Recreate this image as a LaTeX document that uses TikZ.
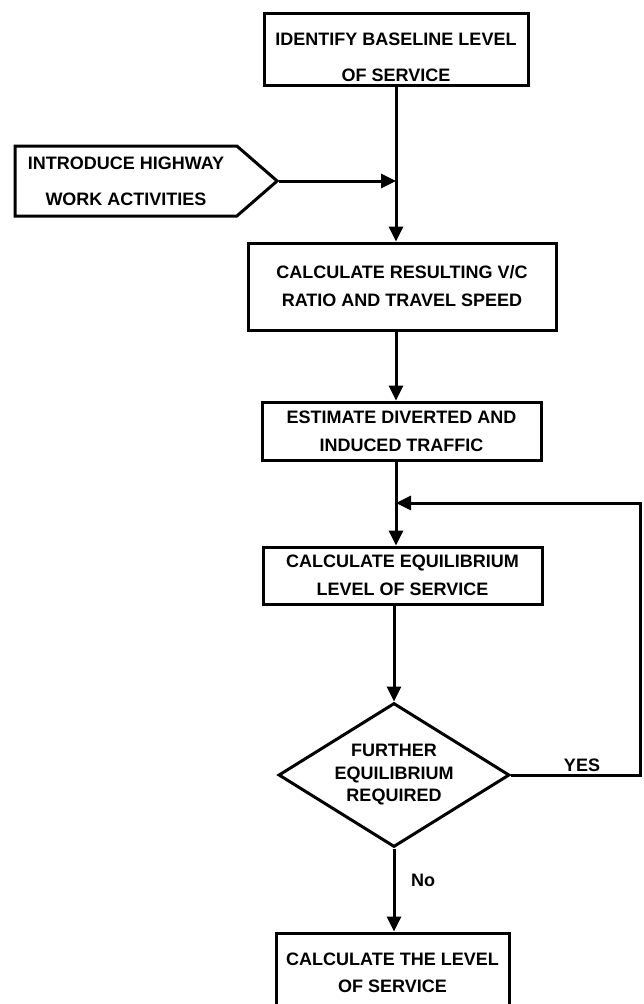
\documentclass[tikz,border=0pt]{standalone}
\usepackage{fontspec}
\setmainfont{Liberation Sans}
\usetikzlibrary{arrows.meta}
\usetikzlibrary{shapes.geometric}
\usetikzlibrary{shapes.symbols}
\tikzset{
  txt/.style={font=\fontsize{18}{21}\selectfont\bfseries},
  stepbox/.style={draw, line width=3pt, align=center, inner sep=0pt},
  flow/.style={line width=3pt, -{Triangle[length=15pt,width=14pt]}}
}
\begin{document}
\begin{tikzpicture}[x=1pt, y=1pt, every node/.style={txt}]
      \clip (0, 0) rectangle (644, -1004);

      \node [stepbox, minimum width=264pt, minimum height=72pt] (base) at (396, -49) {\rule{0pt}{30pt}IDENTIFY BASELINE LEVEL\\[15pt] OF SERVICE};
      \node [stepbox, signal, signal to=east, signal pointer angle=82, minimum width=262pt, minimum height=70pt] (intro) at (126, -181) {INTRODUCE HIGHWAY\\[15pt] WORK ACTIVITIES};
      \node [stepbox, minimum width=308pt, minimum height=87pt] (calc) at (402, -286.5) {CALCULATE RESULTING V/C\\[7pt] RATIO AND TRAVEL SPEED};
      \node [stepbox, minimum width=279pt, minimum height=58pt] (divert) at (401.5, -431) {ESTIMATE DIVERTED AND\\[7pt] INDUCED TRAFFIC};
      \node [stepbox, minimum width=279pt, minimum height=57pt] (equil) at (402.5, -575.5) {CALCULATE EQUILIBRIUM\\[7pt] LEVEL OF SERVICE};
      \node [draw, diamond, line width=3pt, minimum width=231pt, minimum height=144pt, inner sep=0pt] (decide) at (394, -775) {};
      \node [align=center] (ask) at (decide) {FURTHER\\[1.5pt] EQUILIBRIUM\\[1.5pt] REQUIRED};
      \node [stepbox, minimum width=233pt, minimum height=80pt] (final) at (392.5, -973) {CALCULATE THE LEVEL\\[6pt] OF SERVICE};

      \coordinate (join) at (396, -503);
      \coordinate (turn) at (640, -775);

      \draw [flow] (base.south) -- (base.south |- calc.north);
      \draw [flow] (intro.east) -- (intro.east -| base.south);
      \draw [flow] (base.south |- calc.south) -- (base.south |- divert.north);
      \draw [flow] (base.south |- divert.south) -- (base.south |- equil.north);
      \draw [flow] (decide.north |- equil.south) -- (decide.north);
      \draw [flow] (decide.south) -- (decide.south |- final.north);
      \draw [flow] (decide.east) -- (turn) |- (join);

      \node (yes) at (582, -765) {YES};
      \node (no) at (423, -880) {No};
    \end{tikzpicture}
\end{document}
